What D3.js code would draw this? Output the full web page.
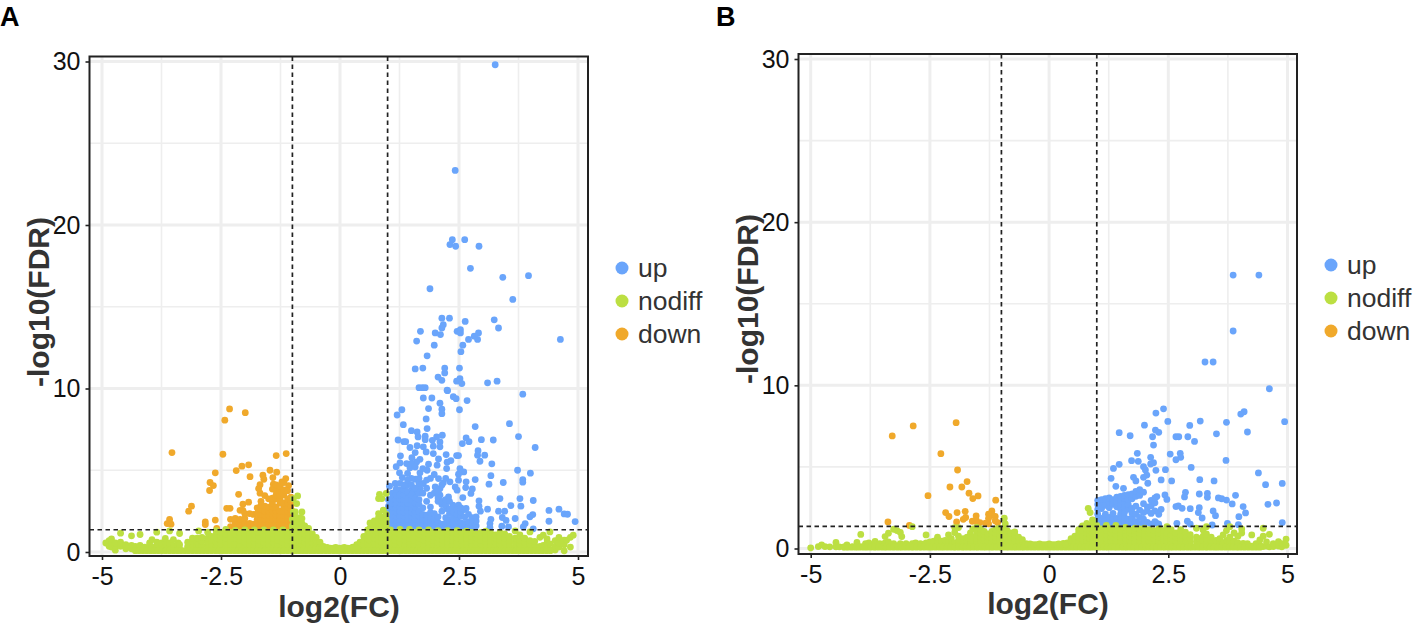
<!DOCTYPE html>
<html>
<head>
<meta charset="utf-8">
<script src="https://cdn.jsdelivr.net/npm/d3@7"></script>
<style>
  body { margin: 0; background: #fff; }
  text { font-family: "Liberation Sans", Arial, sans-serif; }
</style>
</head>
<body>
<div id="chart"></div>
<script>
const xTicks = [-5, -2.5, 0, 2.5, 5];
const xMinor = [-3.75, -1.25, 1.25, 3.75];
const yTicks = [0, 10, 20, 30];
const yMinor = [5, 15, 25];
const xCuts = [-1, 1];
const fdrCut = 1.36;
const groups = ["up", "nodiff", "down"];
const groupColors = { up: "#6AA5FB", nodiff: "#BCDF42", down: "#F0A92B" };

// every row is one x followed by the y values read at that x
const upA = [
  [3.26,29.8],[2.42,23.34],[2.36,19.1],[2.62,19.1],[2.31,18.8],[2.43,18.7],[2.92,18.7],[2.74,17.35],[3.42,16.8],[3.96,16.9],
  [1.89,16.1],[3.63,15.45],[2.14,14.3,13.7],[2.3,14.3],[2.63,14.1],[3.24,14.2],[3.33,13.7],[2.17,13.9],[1.69,13.5],[2,13.4],
  [2.11,13.3],[2.46,13.5],[2.53,13.6,13.4],[2.91,13.4],[2.82,13.2],[2.89,13],[2.7,13],[4.63,13],[1.61,12.9],[1.98,12.65],
  [2.58,12.65],[2.54,12.25],[1.83,12],[1.58,11.2],[1.74,11.25],[2.2,11.25,10.95],[2.51,11.25],[2.06,10.7],[2.14,10.5],[2.52,10.6],
  [2.45,10.45],[2.56,10.3],[3.1,10.35],[3.3,10.45],[1.66,10.05],[1.73,10.05],[1.79,10.05],[2.25,9.9],[3.84,9.65],[2.26,9.87],
  [1.75,9.42],[1.93,9.42],[2.38,9.5],[2.44,9.38],[2.67,9.26],[2.1,9.1],[1.3,8.7],[1.86,8.77],[2.14,8.73,8.46],[1.2,8.38],
  [2.51,8.7],[1.81,8.14],[1.33,7.79],[2.84,7.67],[3.56,7.85],[1.83,7.55],[1.5,7.42],[1.62,7.34],[2.15,7.14],[2.03,7.04],
  [1.79,7.08,6.87],[1.64,7.04],[3.75,7.06],[2.65,6.98],[2.97,6.87],[3.22,6.85],[1.22,6.85],[1.34,6.75],[1.38,6.75],[1.94,6.83],
  [2.1,6.73,6.43],[2.57,6.63],[2.71,6.75],[1.62,6.5],[1.47,6.39],[1.75,6.43],[1.96,6.47,6.02],[4.1,6.39],[2.9,6.2],[2.89,5.92],
  [3.04,5.92],[1.81,6.12],[1.58,6.08],[2.23,5.96],[2.45,5.9],[2.49,5.9,4.76,4.39],[1.27,5.88],[1.51,5.77],[1.68,5.67,4.84],[2.07,5.69,4.49],
  [2.33,5.59],[2.94,5.55],[1.4,5.41,4.08],[1.26,5.45,3.78],[1.61,5.51],[1.86,5.37],[2.04,5.31],[2.25,5.49],[3.19,5.39],[1.18,5.22],
  [1.47,5.16],[2.24,5.1],[3.73,5],[2.52,5.1],[2.6,4.9],[4,4.82],[1.25,4.84],[1.83,5],[1.98,4.74],[3.17,4.67],
  [1.31,4.55],[1.58,4.45,3.58],[2.84,4.43],[3.84,4.43,4.27],[3.43,4.25],[3.13,4.15],[2.65,4.29],[1.04,4.02],[1.16,4.19],[1.75,4.19],
  [2.17,4.23],[2.31,4.29],[2,3.98],[2.42,3.98],[2.64,3.94],[2.78,3.86],[2.75,3.58],[1.51,3.78],[1.68,3.88],[2.1,3.88,3.47],
  [2.46,3.78],[1.12,3.58],[1.39,3.47],[1.9,3.47],[2.28,3.37],[2.58,3.33],[3.36,3.27],[3.78,3.27],[4.06,3.15,1.42],[2.92,3.13,2.8],
  [3.59,2.84],[3.8,2.8],[2.24,2.66],[2.37,2.86],[2.49,2.86],[2.65,2.66],[3.1,2.62],[2.95,2.5],[3.33,2.5],[3.46,2.5],
  [4.39,2.54,1.88],[4.6,2.62],[4.71,2.33],[4.78,2.31],[4.05,2.29],[3.99,2.15],[3.68,2.05],[3.41,2.11],[4.94,1.86],[3.17,2],
  [3.15,1.74,1.5],[3.49,1.93],[3.89,1.74],[3.85,1.54],[3.4,1.58],[3.54,1.54],
  // dense part above the threshold
  [1.02,1.5,1.75,2,2.25,2.5,2.8,3.2],[1.1,1.5,1.75,2,2.25,2.5,2.75,3,3.3,3.6],[1.18,1.45,1.7,1.95,2.2,2.45,2.7,2.95,3.2,3.5,3.85],
  [1.26,1.5,1.75,2,2.25,2.5,2.75,3,3.25,3.5,4.2],[1.34,1.45,1.7,1.95,2.2,2.45,2.7,2.95,3.2,3.5,3.8,4.1],[1.42,1.5,1.75,2,2.25,2.5,2.75,3,3.25,3.7,4.4,4.8],
  [1.5,1.45,1.7,1.95,2.2,2.45,2.7,2.95,3.2,3.5,4.1,4.5,5.4],[1.58,1.5,1.75,2,2.25,2.5,2.75,3,3.3,3.9,5.2],[1.66,1.45,1.7,1.95,2.2,2.5,2.9,3.2,3.6,4.2,4.5],
  [1.74,1.5,1.75,2,2.3,2.7,3.6,5.1],[1.82,1.45,1.7,1.95,2.25,3.1,3.9,4.4],[1.9,1.5,1.75,2.05,2.4,2.75,4.5],
  [1.98,1.45,1.7,2,2.35,3.6],[2.06,1.5,1.8,2.15,3.1,3.3,3.7],[2.14,1.45,1.7,2.5,2.9,3.1,4.1],
  [2.22,1.5,1.75,2.1,2.85,3.2,4.5],[2.3,1.45,1.7,1.95,2.35,2.6,3.1],[2.38,1.5,1.8,2.1,2.45,2.65],
  [2.46,1.45,1.7,2.05,2.3,2.6],[2.54,1.5,1.8,2.2,2.45,2.7],[2.62,1.45,1.75,2.15,2.6],
  [2.7,1.5,1.85,2.3],[2.78,1.45,1.7,2.1],[2.86,1.6,1.9,2.15]
];
const downA = [
  [-2.32,8.75],[-1.99,8.52],[-2.42,8.06],[-3.53,6.08],[-2.46,5.98],[-1.13,6.02],[-1.34,5.9],[-1.92,5.33],[-2.06,5.25],[-2.18,4.98],
  [-2.62,4.84],[-1.47,5],[-1.33,4.88],[-1.62,4.7],[-1.89,4.61],[-1.6,4.45],[-1.41,4.55],[-1.14,4.49],[-2.73,4.25],[-2.66,4.06],
  [-2.74,3.76],[-1.68,4.12,3.6],[-1.71,3.88],[-1.4,4.15],[-1.22,4.29],[-1.08,4.06],[-1.27,3.98],[-2.13,3.53],[-3.12,2.8],[-3.18,2.5],
  [-3.58,1.99],[-3.63,1.74],[-3.55,1.7],[-2.83,1.84,1.68],[-2.62,1.95],[-2.59,1.44],[-2.38,2.67],[-2.31,2.67],[-2.04,2.92,2.55],[-1.92,3.05],
  // dense part above the threshold
  [-2.3,1.55,2],[-2.2,1.5,1.8,2.05],[-2.1,1.5,1.75,2,2.55],[-2,1.5,1.75,2.05,2.35],[-1.9,1.5,1.75,2.35],[-1.82,1.5,1.7,2.3],[-1.74,1.5,1.75,2,2.35,2.7],
  [-1.66,1.5,1.75,2,2.3,2.6,2.85,3.1],[-1.58,1.5,1.75,2,2.25,2.5,2.8,3.45],[-1.5,1.5,1.75,2,2.25,2.5,2.75,3.25],[-1.42,1.5,1.75,2,2.25,2.5,2.75,3,3.3,3.85],
  [-1.34,1.5,1.75,2,2.25,2.5,2.75,3.25,3.5,3.75,4.1],[-1.26,1.5,1.75,2,2.25,2.5,3,3.25,3.5,3.75,4],[-1.18,1.5,1.75,2,2.25,2.5,2.75,3,3.5,3.8,4.25],
  [-1.1,1.5,1.75,2,2.25,2.5,2.75,3,3.25,3.75],[-1.03,1.6,1.85,2.1,2.35,2.6,2.85,3.1,3.35]
];
const nodiffA = [
  [-4.92,.55],[-4.85,.35,.7],[-4.8,.3,.6,.8],[-4.72,.11,.35,.55],[-4.61,.35,.6,1.15],[-4.5,.2,.45],[-4.38,.2,.4,.99],[-4.3,.15,.35],[-4.2,.15,.4,1.07],
  [-4.1,.15,.3],[-4,.12,.35,.55],[-3.95,.12,.3,.76],[-3.85,.15,.35,.6,1.21],[-3.75,.12,.3,.55],[-3.67,.15,.35,.6,.83],[-3.58,.12,.35,.55,1.29],[-3.5,.15,.4,.76],
  [-3.4,.12,.3,.55],[-3.37,.2,.45,1.13],[-3.2,.12,.35,.6],[-3.1,.15,.4,.65,.85],[-3,.12,.35,.6,.85],[-2.97,.2,.45,1.29],[-2.9,.15,.4,.65,.9],[-2.78,.12,.35,.6,.85,1.21],
  [-2.7,.2,.45,.7,.95],[-2.6,.1,.35,.6,.85,1.1,1.3],[-2.5,.2,.45,.7,.95,1.2],[-2.4,.1,.35,.6,.85,1.1,1.38],[-2.3,.2,.45,.7,.95,1.2],[-2.2,.1,.35,.6,.85,1.1,1.32],
  [-2.1,.2,.45,.7,.95,1.2],[-2,.1,.35,.6,.85,1.1,1.35],[-1.9,.2,.45,.7,.95,1.2],[-1.8,.1,.35,.6,.85,1.1,1.35],[-1.7,.2,.45,.7,.95,1.2],[-1.6,.1,.35,.6,.85,1.1,1.35],
  [-1.5,.2,.45,.7,.95,1.2],[-1.4,.1,.35,.6,.85,1.1,1.35],[-1.3,.2,.45,.7,.95,1.2],[-1.2,.1,.35,.6,.85,1.1,1.35],[-1.1,.2,.45,.7,.95,1.2],
  [-1,.1,.35,.6,.85,1.1,1.35,1.6,2],[-.98,2.45,3.27],[-.94,.2,.45,.7,.95,1.2,1.5,1.8,2.15,2.45],[-.91,2.96],[-.89,3.43],[-.85,.1,.35,.6,.85,1.1,1.35,1.6,1.85,2.1],
  [-.8,.2,.45,.7,.95,1.2,1.5,1.75,2.05,2.45],[-.74,.1,.35,.6,.85,1.1,1.35,1.6],[-.66,.2,.45,.7,.95,1.2,1.45],[-.58,.1,.35,.6,.85,1.1],[-.5,.2,.45,.7,.9],
  [-.42,.1,.35,.6],[-.35,.18,.35],[-.27,.12,.28],[-.18,.18],[-.09,.12,.28],[0,.18],[.09,.12,.28],[.18,.18],[.27,.12,.3],
  [.35,.2,.45],[.42,.12,.35,.6],[.5,.2,.45,.7,.95],[.58,.1,.35,.6,.85,1.1,1.35],[.63,.2,.45,.7,.95,1.2,1.45,1.78],[.72,.1,.35,.6,.85,1.1,1.35,1.6,1.9],[.81,.2,.45,.7,.95,1.2,1.5,1.8,2.1,2.35,3.27],
  [.83,3.53],[.88,.1,.35,.6,.85,1.1,1.35,1.6,1.9,2.15,3.27],[.91,2.56],[.97,.2,.45,.7,.95,1.2,1.45,1.7,2,2.3,3.58],[1.06,.1,.35,.6,.85,1.1,1.35],[1.16,.2,.45,.7,.95,1.2],
  [1.26,.1,.35,.6,.85,1.1,1.38],[1.36,.2,.45,.7,.95,1.2],[1.46,.1,.35,.6,.85,1.1,1.38],[1.56,.2,.45,.7,.95,1.2],[1.66,.1,.35,.6,.85,1.1,1.35],[1.76,.2,.45,.7,.95,1.2],
  [1.86,.1,.35,.6,.85,1.1,1.35],[1.96,.2,.45,.7,.95,1.2],[2.06,.1,.35,.6,.85,1.1,1.3],[2.16,.2,.45,.7,.95,1.2],[2.26,.1,.35,.6,.85,1.1,1.3],[2.36,.2,.45,.7,.95,1.2],
  [2.46,.1,.35,.6,.85,1.1,1.3],[2.56,.2,.45,.7,.95,1.2],[2.66,.1,.35,.6,.85,1.1,1.28],[2.76,.2,.45,.7,.95,1.2],[2.86,.1,.35,.6,.85,1.1],[2.96,.2,.45,.7,.95,1.2],
  [3.06,.1,.35,.6,.85,1.1,1.28],[3.16,.2,.45,.7,.95,1.2],[3.26,.1,.35,.6,.85,1.05],[3.36,.2,.45,.7,.95,1.2],[3.46,.1,.35,.6,.85,1.1],[3.56,.2,.45,.7,.95],
  [3.68,.1,.35,.6,.85,1.29],[3.78,.2,.45,.7,1.05],[3.88,.1,.35,.6,.85],[3.99,.2,.45,.7,1.23],[4.09,.15,.4,.65],[4.2,.12,.35,.9],
  [4.27,.15,.4,1.03],[4.35,.25,.55,.8],[4.41,.15,.5,1.23],[4.52,.12,.35,.7],[4.6,.3,.55,.9],[4.71,.07,.45,.72],[4.76,.72],[4.84,.3,.9],[4.9,1.03]
];

const upB = [
  [3.86,16.76,13.33],[4.4,16.76],[3.27,11.43],[3.44,11.43],
  [4.62,9.79],[2.4,8.56],[2.24,8.3],[4.09,8.38],[4.02,8.24],[2.49,7.79],[3.17,7.81],[3.72,7.73],[4.94,7.77],[2.95,7.54],
  [2,7.56],[2.23,7.26],[2.3,7.12],[1.47,7.1],[1.7,6.91],[2.17,6.85],[2.66,6.85],[2.72,6.85],[2.91,6.85],[3.51,7.03],
  [4.16,7.14],[3.05,6.56],[2.19,6.34],[1.85,5.83],[2.54,5.79],[2.75,5.83],[2.76,5.59],[2.66,5.44],[2.13,5.59],[1.73,5.38],
  [1.87,5.34],[2.19,5.26],[2.13,5.18],[3.71,5.4],[1.47,5.16],[1.35,4.91],[1.98,5.01],[2.02,4.81],[2.24,4.79],[2.44,4.83],
  [2.98,4.97],[2.05,4.5],[1.98,4.36],[4.39,4.63],[1.3,4.3],[1.77,4.36],[1.82,4.14],[2.07,4],[2.35,4.2],[2.57,4.14],
  [3.16,4.22],[3.46,4.14],[4.54,3.91],[4.89,3.99],[1.4,3.81],[1.56,3.69],[2.86,3.44],[3.15,3.34],[3.32,3.38,3.14],[2.43,3.28],
  [2.47,3.01],[2.84,3.16],[2.26,3.18],[3.55,3.1],[3.62,3.05],[3.72,2.97],[3.91,3.26],[3.84,2.73],[4.59,2.71],[4.77,2.79],
  [4.07,2.57],[4.12,2.18],[3.98,1.95],[4.89,1.59],[3.74,1.54],[3.97,1.46],[3.42,1.44],[3.44,2.3],[3.49,2.01],[3.15,2.5],
  [3.13,2.2],[3.21,1.87],[2.96,2.44,1.5],[2.66,2.57],[2.71,2.61],[2.79,2.46],[2.9,1.67],[2.68,1.54],[2.35,2.4],[2.26,1.54],
  // dense part above the threshold
  [1.02,1.5,1.8,2.1,2.4,2.7,2.95],[1.1,1.55,1.85,2.45,2.75,3],[1.18,1.5,1.8,2.1,2.65,3.05],[1.26,1.6,1.9,2.5,2.85,3.1],[1.34,1.5,1.8,2.15,2.7,3],[1.42,1.55,1.85,2.55,2.85,3.15],
  [1.5,1.5,1.8,2.1,2.4,2.7,3,3.2],[1.58,1.6,1.9,2.2,2.5,2.8,3.1,3.25],[1.66,1.5,1.8,2.4,2.7,3,3.3],[1.74,1.55,1.85,2.15,2.45,3.05,3.35],[1.82,1.65,2.1,2.6,3.2,3.5],[1.9,1.5,1.9,2.35,3.25,3.6],
  [1.98,1.5,1.8,2.2,2.75,3.45],[2.06,1.6,2.3,2.55],[2.14,1.5,2.15,2.6,2.95],[2.22,1.65,2.3,2.8,3.1],[2.3,1.5,2.1]
];
const downB = [
  [-1.95,7.71],[-2.85,7.51],[-3.29,6.9],[-2.27,5.81],[-1.92,4.81],[-1.72,4.1],[-2.08,3.77],[-1.83,3.77],[-1.68,3.39],[-1.49,3.22],
  [-1.6,3.06],[-2.54,3.24],[-1.12,2.96],[-2.17,2.2],[-2.1,1.96],[-1.93,2.2],[-1.76,2.28],[-1.2,2.3,2.05],[-1.27,2.1,1.85,1.51],[-1.13,1.96,1.7],
  [-1.53,2,1.75],[-1.8,1.79],[-1.94,1.63],[-1.61,1.67],[-1.45,1.59],[-1.08,1.59],[-3.38,1.63],[-2.93,1.41],[-1.5,1.55],[-1.75,1.9],[-1.33,1.55]
];
const nodiffB = [
  [-5,.04],[-4.84,.12],[-4.77,.22],[-4.7,.12],[-4.6,.1],[-4.47,.1,.37],[-4.4,.1],[-4.3,.1],[-4.24,.1,.22],[-4.12,.12],[-4.03,.1,.37],
  [-3.95,.12,.86],[-3.85,.1,.3],[-3.78,.12,.35],[-3.65,.1,.3,.43],[-3.55,.12,.3],[-3.44,.1,.35,.73],[-3.37,.15,.4,.94],[-3.26,.12,.3,1.18],[-3.19,.15,1.1],[-3.12,.1,.3,.98],
  [-3.09,.73],[-3,.12,.3],[-2.87,.1,.3,1.34],[-2.8,.12,.35],[-2.7,.1,.3],[-2.58,.12,.35,.83],[-2.5,.1,.4],[-2.42,.15,.45],[-2.34,.12,.4,.69],[-2.25,.1,.45],
  [-2.18,.2,.5],[-2.11,.12,.4,.83],[-2.05,.2,.6],[-1.98,.1,.35,.98,1.28],[-1.9,.2,.5,.75,1.28],[-1.8,.1,.35,.6],[-1.72,.2,.45,.7],[-1.65,.1,.35,.6,.95],[-1.6,.2,.45,.7,1.2],[-1.52,.1,.35,.6,.85,1.15,1.3],
  [-1.44,.2,.45,.7,.95,1.2],[-1.36,.1,.35,.6,.85,1.05],[-1.28,.2,.45,.7,.9],[-1.2,.1,.35,.6,.85,1.05],[-1.12,.2,.45,.7,.95,1.2],[-1.04,.1,.35,.6,.85,1.1,1.25],[-.96,.2,.45,.7,.95,1.2],
  [-.94,1.86],[-.92,1.51],[-.88,.1,.35,.6,.85,1.1],[-.8,.2,.45,.7,.95],[-.72,.1,.35,.6,.85,1.02],[-.64,.2,.45,.7],[-.56,.1,.35,.55],[-.48,.18,.3],[-.4,.12,.28],
  [-.3,.18],[-.2,.12,.28],[-.1,.18],[0,.12,.28],[.1,.18],[.2,.12,.28],[.3,.18,.32],[.38,.12,.35],[.46,.2,.45,.6],[.54,.12,.35,.6,.75],[.62,.2,.45,.7,.95,1.15],
  [.7,.1,.35,.6,.85,1.1,1.38],[.79,.2,.45,.7,.95,1.2,1.54],[.82,2.46],[.86,.1,.35,.6,.85,1.1,1.35,2.2],[.91,.2,.45,.7,.95,1.2,1.5,1.75],[1,.1,.35,.6,.85,1.1,1.42],[1.1,.2,.45,.7,.95,1.2],
  [1.2,.1,.35,.6,.85,1.1,1.42],[1.3,.2,.45,.7,.95,1.2],[1.4,.1,.35,.6,.85,1.1,1.42],[1.5,.2,.45,.7,.95,1.2],[1.6,.1,.35,.6,.85,1.1,1.3],[1.7,.2,.45,.7,.95,1.15],[1.8,.1,.35,.6,.85,1.1,1.25],
  [1.9,.2,.45,.7,.95,1.2],[2,.1,.35,.6,.85,1.1,1.25],[2.1,.2,.45,.7,.95,1.15],[2.2,.1,.35,.6,.85,1.1],[2.3,.2,.45,.7,.95,1.2],[2.4,.1,.35,.6,.85,1.1],[2.47,.2,.45,.7,.95,1.34],
  [2.56,.1,.35,.6,.85,1.15],[2.66,.2,.45,.7,.95],[2.76,.1,.35,.6,.85,1.15],[2.86,.2,.45,.7,1],[2.96,.1,.35,.6,.85],[3.09,.2,.45,.7,1.24],[3.16,.1,.35,.6],[3.23,.2,.45,.75,1.14],
  [3.3,.1,.35,.6,.9,1.34],[3.4,.2,.45,.7],[3.5,.1,.35,.5],[3.58,.2,.4,.6],[3.65,.12,.35,.83],[3.72,.2,.5,1.1],[3.79,.12,.35,.7,1.34],[3.88,.2,.45,.95],[3.96,.1,.35,.75],
  [4.04,.15,1.2,.95],[4.07,.32],[4.16,.12,.3],[4.25,.15,.83],[4.34,.12,.3],[4.42,.2,.52],[4.49,.12,.75,1.24],[4.56,.15,.4],[4.62,.1,.87],[4.7,.12,.3],
  [4.81,.15,.42],[4.88,.1,.3],[4.97,.2,.58]
];

// the band along the floor is solid in both panels, so its x values are shared
const floorX = [
  -4.3,-4.22,-4.14,-4.06,-3.98,-3.9,-3.82,-3.74,-3.66,-3.58,-3.5,-3.42,-3.34,-3.26,-3.18,-3.1,-3.02,-2.94,-2.86,-2.78,-2.7,-2.62,-2.54,-2.46,-2.38,-2.3,-2.22,-2.14,-2.06,-1.98,
  -1.9,-1.82,-1.74,-1.66,-1.58,-1.5,-1.42,-1.34,-1.26,-1.18,-1.1,-1.02,-.94,-.86,-.78,-.7,-.62,-.54,-.46,-.38,-.3,-.22,-.14,-.06,.02,.1,.18,.26,.34,.42,
  .5,.58,.66,.74,.82,.9,.98,1.06,1.14,1.22,1.3,1.38,1.46,1.54,1.62,1.7,1.78,1.86,1.94,2.02,2.1,2.18,2.26,2.34,2.42,2.5,2.58,2.66,2.74,2.82,
  2.9,2.98,3.06,3.14,3.22,3.3,3.38,3.46,3.54,3.62,3.7,3.78,3.86,3.94,4.02,4.1,4.18,4.26,4.34,4.42
];
const floorY = 0.08;
const collarX = [-.5,-.44,-.38,-.32,-.26,-.2,-.14,-.08,-.02,.04,.1,.16,.22,.28,.34];
const collarY = 0.24;

const panels = [
  { tag: "A", tagX: 0, data: { up: upA, nodiff: nodiffA, down: downA }, box: [89.5, 56.5, 588, 556], xr: [102, 578], yr: [552, 61.5], titleX: 339, titleY: 617, yTitleX: 49, yTitleY: 302, legendX: 622, legendY: 268 },
  { tag: "B", tagX: 716, data: { up: upB, nodiff: nodiffB, down: downB }, box: [798.5, 54, 1297, 554], xr: [810.7, 1287.5], yr: [548.5, 59], titleX: 1048, titleY: 614, yTitleX: 758, yTitleY: 299, legendX: 1331, legendY: 265 }
];

const svg = d3.select("#chart").append("svg")
  .attr("width", 1413)
  .attr("height", 623);

panels.forEach((p) => {
  const [left, top, right, bottom] = p.box;
  const x = d3.scaleLinear().domain([-5, 5]).range(p.xr);
  const y = d3.scaleLinear().domain([0, 30]).range(p.yr);
  const g = svg.append("g");

  g.append("text")
    .attr("x", p.tagX)
    .attr("y", 26)
    .style("font-size", "27px")
    .style("font-weight", "bold")
    .text(p.tag);

  // grid
  const grid = (vals, w) => {
    g.append("g").selectAll("line").data(vals).join("line")
      .attr("x1", (d) => x(d)).attr("x2", (d) => x(d))
      .attr("y1", top).attr("y2", bottom)
      .attr("stroke", "#eeeeee").attr("stroke-width", w);
  };
  const gridY = (vals, w) => {
    g.append("g").selectAll("line").data(vals).join("line")
      .attr("x1", left).attr("x2", right)
      .attr("y1", (d) => y(d)).attr("y2", (d) => y(d))
      .attr("stroke", "#eeeeee").attr("stroke-width", w);
  };
  grid(xMinor, 1.6);
  gridY(yMinor, 1.6);
  grid(xTicks, 3);
  gridY(yTicks, 3);

  // points, nodiff goes on top
  ["up", "down", "nodiff"].forEach((name) => {
    const pts = p.data[name].flatMap((row) => row.slice(1).map((v) => [row[0], v]));
    if (name === "nodiff") {
      floorX.forEach((v) => pts.push([v, floorY]));
      collarX.forEach((v) => pts.push([v, collarY]));
    }
    g.append("g").selectAll("circle").data(pts).join("circle")
      .attr("cx", (d) => x(d[0]))
      .attr("cy", (d) => y(d[1]))
      .attr("r", 3.4)
      .attr("fill", groupColors[name]);
  });

  // cut-off lines
  g.append("g").selectAll("line").data(xCuts).join("line")
    .attr("x1", (d) => x(d)).attr("x2", (d) => x(d))
    .attr("y1", top).attr("y2", bottom)
    .attr("stroke", "#222").attr("stroke-width", 1.7).attr("stroke-dasharray", "4.5 3.5");
  g.append("line")
    .attr("x1", left).attr("x2", right)
    .attr("y1", y(fdrCut)).attr("y2", y(fdrCut))
    .attr("stroke", "#222").attr("stroke-width", 1.7).attr("stroke-dasharray", "4.5 3.5");

  g.append("rect")
    .attr("x", left).attr("y", top)
    .attr("width", right - left).attr("height", bottom - top)
    .attr("fill", "none").attr("stroke", "#222").attr("stroke-width", 2);

  // axes
  const xAxis = g.append("g")
    .attr("transform", `translate(0,${bottom})`)
    .call(d3.axisBottom(x).tickValues(xTicks).tickSize(4).tickPadding(7).tickFormat((d) => d));
  const yAxis = g.append("g")
    .attr("transform", `translate(${left},0)`)
    .call(d3.axisLeft(y).tickValues(yTicks).tickSize(4).tickPadding(5));
  [xAxis, yAxis].forEach((a) => {
    a.select(".domain").remove();
    a.selectAll("line").attr("stroke", "#222").attr("stroke-width", 1.6);
    a.selectAll("text")
      .attr("fill", "#111")
      .style("font-family", '"Liberation Sans", Arial, sans-serif')
      .style("font-size", "25px");
  });

  g.append("text")
    .attr("x", p.titleX)
    .attr("y", p.titleY)
    .attr("text-anchor", "middle")
    .attr("fill", "#333")
    .style("font-size", "30px")
    .style("font-weight", "bold")
    .text("log2(FC)");
  g.append("text")
    .attr("transform", `translate(${p.yTitleX},${p.yTitleY}) rotate(-90)`)
    .attr("text-anchor", "middle")
    .attr("fill", "#333")
    .style("font-size", "30px")
    .style("font-weight", "bold")
    .text("-log10(FDR)");

  // legend
  const legend = g.append("g").selectAll("g").data(groups).join("g")
    .attr("transform", (d, i) => `translate(${p.legendX},${p.legendY + i * 33})`);
  legend.append("circle")
    .attr("r", 6.5)
    .attr("fill", (d) => groupColors[d]);
  legend.append("text")
    .attr("x", 16)
    .attr("y", 9)
    .attr("fill", "#333")
    .style("font-size", "26.5px")
    .text((d) => d);
});
</script>
</body>
</html>
